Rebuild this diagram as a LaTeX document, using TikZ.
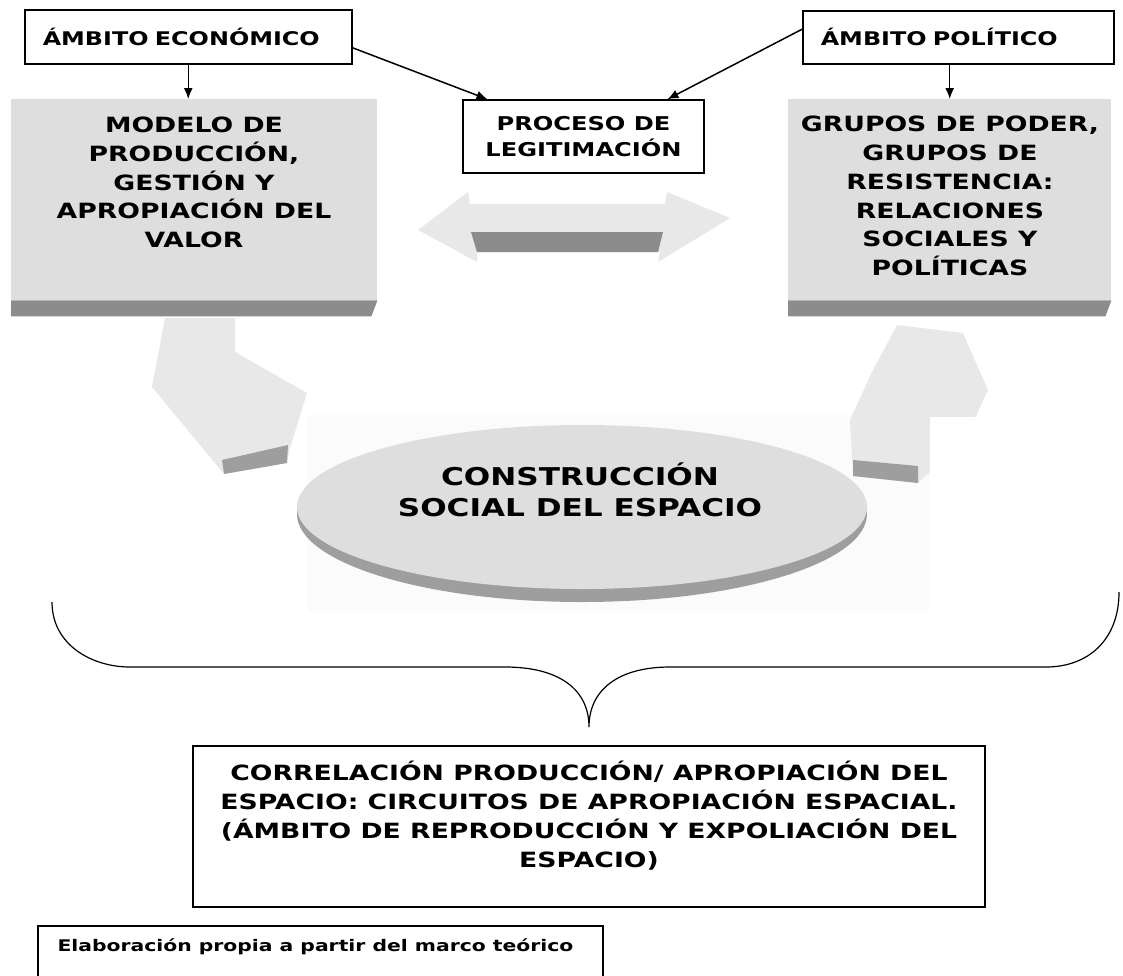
\documentclass[tikz,border=0pt]{standalone}
\usepackage{fontspec}
\setmainfont{DejaVu Sans}[FakeStretch=1.27]
\usetikzlibrary{arrows.meta,calc,shapes.geometric}
\definecolor{facegray}{gray}{0.87}
\definecolor{bandgray}{gray}{0.55}
\definecolor{lightgray}{gray}{0.91}
\definecolor{rimgray}{gray}{0.62}
\definecolor{paper}{gray}{0.985}
\begin{document}
\begin{tikzpicture}[x=1pt,y=-1pt,
  lbox/.style={draw=black,line width=1.5pt,fill=white,rectangle,inner sep=0pt},
  gbox/.style={fill=facegray,draw=none,rectangle,inner sep=0pt},
  arr/.style={line width=1.5pt,-{Latex[length=11pt,width=9pt]}},
  ftop/.style={font=\bfseries\fontsize{18.8}{24}\selectfont},
  fbig/.style={font=\bfseries\fontsize{21}{28.8}\selectfont},
  fproc/.style={font=\bfseries\fontsize{19}{26}\selectfont},
  fell/.style={font=\bfseries\fontsize{24.5}{31}\selectfont},
  fcorr/.style={font=\bfseries\fontsize{21}{29}\selectfont},
  ffoot/.style={font=\bfseries\fontsize{16}{20}\selectfont}]
\useasboundingbox (0,0) rectangle (1123,975);

% faint background of the ellipse picture
\fill[paper] (307,415) rectangle (930,611);

% decorative 3-D arrows toward the ellipse
\fill[lightgray] (165,318) -- (235,318) -- (235,352) -- (307,393) -- (290,448) -- (287,463) -- (224,474) -- (152,387) -- cycle;
\fill[rimgray] (222,460) -- (288,445) -- (287,463) -- (224,474) -- cycle;
\fill[lightgray] (897,325) -- (963,333) -- (988,390) -- (965,440) -- (918,483) -- (853,476) -- (850,420) -- (872,372) -- cycle;
\fill[rimgray] (853,460) -- (918,466) -- (918,483) -- (853,476) -- cycle;
\fill[white] (930,417) rectangle (1000,612);

% ellipse (3-D disc)
\fill[rimgray] (582,514) ellipse [x radius=285pt, y radius=88pt];
\node[ellipse, fill=facegray, minimum width=570pt, minimum height=164pt, inner sep=0pt] (csoc) at (582,507) {};
\node[fell, align=center] (csoct) at (580,490) {CONSTRUCCIÓN\\SOCIAL DEL ESPACIO};

% double arrow
\fill[lightgray] (418,230) -- (468,192) -- (470,204) -- (665,204) -- (667,192) -- (730,218) -- (658,262) -- (660,252) -- (477,252) -- (477,262) -- cycle;
\fill[bandgray] (471,232) -- (663,232) -- (658,252) -- (477,252) -- cycle;

% top label boxes
\node[lbox, inner xsep=18pt, anchor=north west, minimum width=327pt, minimum height=54pt, text width=291pt, align=left, ftop] (econ) at (24,9) {ÁMBITO ECONÓMICO};
\node[lbox, inner xsep=18pt, anchor=north west, minimum width=311pt, minimum height=53pt, text width=275pt, align=left, ftop] (pol) at (802,10) {ÁMBITO POLÍTICO};

% 3-D grey boxes
\node[gbox, anchor=north west, minimum width=366pt, minimum height=201pt] (model) at (11,99) {};
\fill[bandgray] (model.south west) -- (model.south east) -- ++(-6,16) -- ($(model.south west)+(0,16)$) -- cycle;
\node[fbig, align=center] (modelt) at (194,182.5) {MODELO DE\\PRODUCCIÓN,\\GESTIÓN Y\\APROPIACIÓN DEL\\VALOR};

\node[gbox, anchor=north west, minimum width=323pt, minimum height=201pt] (grupos) at (788,99) {};
\fill[bandgray] (grupos.south west) -- (grupos.south east) -- ++(-6,16) -- ($(grupos.south west)+(0,16)$) -- cycle;
\node[fbig, align=center] (grupost) at (950,196) {GRUPOS DE PODER,\\GRUPOS DE\\RESISTENCIA:\\RELACIONES\\SOCIALES Y\\POLÍTICAS};

% process box
\node[lbox, minimum width=241pt, minimum height=73pt, align=center, fproc] (proc) at (583.5,136.5) {PROCESO DE\\LEGITIMACIÓN};

% connectors
\draw[arr] ([yshift=-11pt]econ.east) -- ($(proc.north west)!0.104!(proc.north east)$);
\draw[arr] ([yshift=8pt]pol.west) -- ($(proc.north west)!0.846!(proc.north east)$);
\draw[arr] (econ.south) -- (econ.south |- model.north);
\draw[arr] (pol.south -| grupos.north) -- (grupos.north);

% brace
\draw[line width=1.2pt] (52,602) .. controls (52,645) and (92,667) .. (130,667) -- (505,667)
  .. controls (560,667) and (589,690) .. (589,727)
  .. controls (589,690) and (618,667) .. (670,667) -- (1046,667)
  .. controls (1088,667) and (1119,640) .. (1119,592);

% bottom box
\node[lbox, minimum width=792pt, minimum height=161pt] (corr) at (589,826.5) {};
\node[fcorr, align=center] (corrt) at (589,815.5) {CORRELACIÓN PRODUCCIÓN/ APROPIACIÓN DEL\\ESPACIO: CIRCUITOS DE APROPIACIÓN ESPACIAL.\\(ÁMBITO DE REPRODUCCIÓN Y EXPOLIACIÓN DEL\\ESPACIO)};

% footer
\node[lbox, anchor=north west, minimum width=565pt, minimum height=70pt] (foot) at (37,925) {};
\node[ffoot, anchor=west] (foott) at (54,947) {Elaboración propia a partir del marco teórico};
\end{tikzpicture}
\end{document}
